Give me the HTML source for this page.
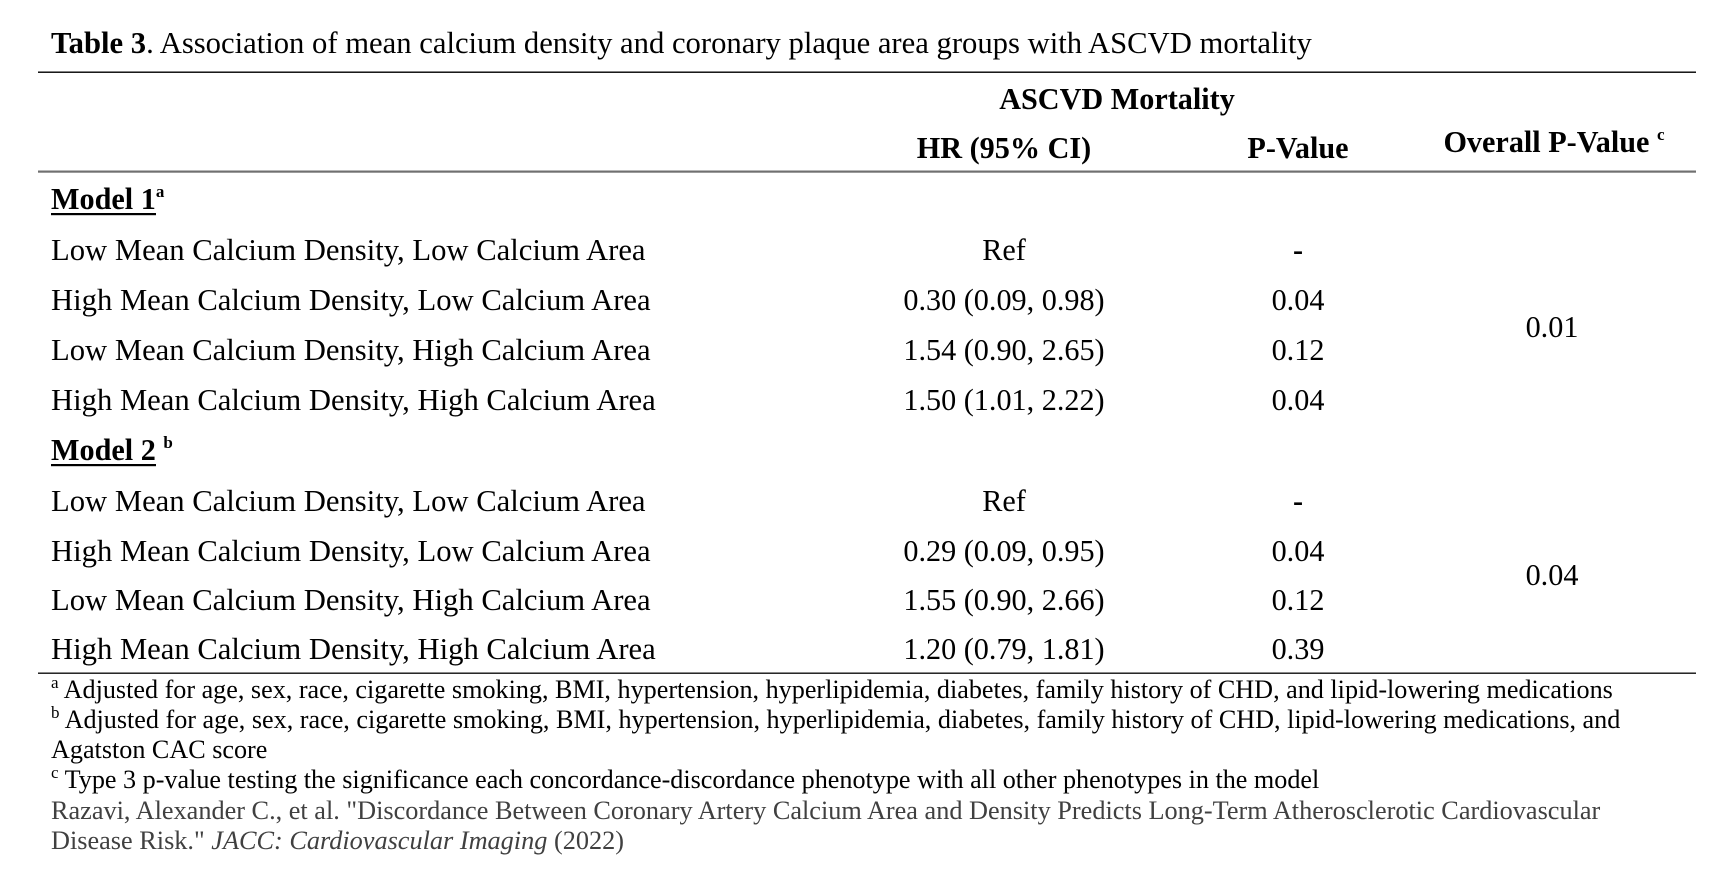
<!DOCTYPE html>
<html>
<head>
<meta charset="utf-8">
<style>
html,body{margin:0;padding:0;background:#fff;}
svg{display:block;}
text{font-family:"Liberation Serif","Times New Roman",serif;fill:#000;}
</style>
</head>
<body>
<svg width="1725" height="886" viewBox="0 0 1725 886" xmlns="http://www.w3.org/2000/svg">
<rect x="0" y="0" width="1725" height="886" fill="#fff"/>

<!-- Title -->
<text x="51" y="53" font-size="30.65"><tspan font-weight="bold">Table 3</tspan>. Association of mean calcium density and coronary plaque area groups with ASCVD mortality</text>

<!-- rules -->
<rect x="38" y="71.5" width="1658" height="1.4" fill="#000"/>
<rect x="38" y="170.5" width="1658" height="2.2" fill="#707070"/>
<rect x="38" y="672.5" width="1658" height="1.4" fill="#111"/>

<!-- Header -->
<text x="1117" y="109" font-size="30.2" font-weight="bold" text-anchor="middle">ASCVD Mortality</text>
<text x="1004" y="158" font-size="30.2" font-weight="bold" text-anchor="middle">HR (95% CI)</text>
<text x="1298" y="158" font-size="30.2" font-weight="bold" text-anchor="middle">P-Value</text>
<text x="1554" y="152" font-size="30.2" font-weight="bold" text-anchor="middle">Overall P-Value <tspan font-size="17" dy="-12">c</tspan></text>

<!-- Model 1 -->
<text x="51" y="209" font-size="30.2" font-weight="bold">Model 1<tspan font-size="17" dy="-12">a</tspan></text>
<rect x="51" y="213" width="105" height="2.2" fill="#000"/>

<g font-size="30.65">
<text x="51" y="260">Low Mean Calcium Density, Low Calcium Area</text>
<text x="51" y="310">High Mean Calcium Density, Low Calcium Area</text>
<text x="51" y="360">Low Mean Calcium Density, High Calcium Area</text>
<text x="51" y="410">High Mean Calcium Density, High Calcium Area</text>
</g>
<g font-size="30.2" text-anchor="middle">
<text x="1004" y="260">Ref</text>
<text x="1004" y="310">0.30 (0.09, 0.98)</text>
<text x="1004" y="360">1.54 (0.90, 2.65)</text>
<text x="1004" y="410">1.50 (1.01, 2.22)</text>
<text x="1298" y="260" font-weight="bold">-</text>
<text x="1298" y="310">0.04</text>
<text x="1298" y="360">0.12</text>
<text x="1298" y="410">0.04</text>
<text x="1552" y="337">0.01</text>
</g>

<!-- Model 2 -->
<text x="51" y="460" font-size="30.2" font-weight="bold">Model 2 <tspan font-size="17" dy="-12">b</tspan></text>
<rect x="51" y="464" width="105" height="2.2" fill="#000"/>

<g font-size="30.65">
<text x="51" y="511">Low Mean Calcium Density, Low Calcium Area</text>
<text x="51" y="561">High Mean Calcium Density, Low Calcium Area</text>
<text x="51" y="610">Low Mean Calcium Density, High Calcium Area</text>
<text x="51" y="659">High Mean Calcium Density, High Calcium Area</text>
</g>
<g font-size="30.2" text-anchor="middle">
<text x="1004" y="511">Ref</text>
<text x="1004" y="561">0.29 (0.09, 0.95)</text>
<text x="1004" y="610">1.55 (0.90, 2.66)</text>
<text x="1004" y="659">1.20 (0.79, 1.81)</text>
<text x="1298" y="511" font-weight="bold">-</text>
<text x="1298" y="561">0.04</text>
<text x="1298" y="610">0.12</text>
<text x="1298" y="659">0.39</text>
<text x="1552" y="585">0.04</text>
</g>

<!-- Footnotes -->
<g font-size="26.15">
<text x="51" y="698"><tspan font-size="17" dy="-10">a</tspan><tspan dy="10"> Adjusted for age, sex, race, cigarette smoking, BMI, hypertension, hyperlipidemia, diabetes, family history of CHD, and lipid-lowering medications</tspan></text>
<text x="51" y="728"><tspan font-size="17" dy="-10">b</tspan><tspan dy="10"> Adjusted for age, sex, race, cigarette smoking, BMI, hypertension, hyperlipidemia, diabetes, family history of CHD, lipid-lowering medications, and</tspan></text>
<text x="51" y="758">Agatston CAC score</text>
<text x="51" y="788"><tspan font-size="17" dy="-10">c</tspan><tspan dy="10"> Type 3 p-value testing the significance each concordance-discordance phenotype with all other phenotypes in the model</tspan></text>
<text x="51" y="819" font-size="26.27" style="fill:#404040">Razavi, Alexander C., et al. "Discordance Between Coronary Artery Calcium Area and Density Predicts Long-Term Atherosclerotic Cardiovascular</text>
<text x="51" y="849" font-size="26.27" style="fill:#404040">Disease Risk." <tspan font-style="italic">JACC: Cardiovascular Imaging</tspan> (2022)</text>
</g>
</svg>
</body>
</html>
